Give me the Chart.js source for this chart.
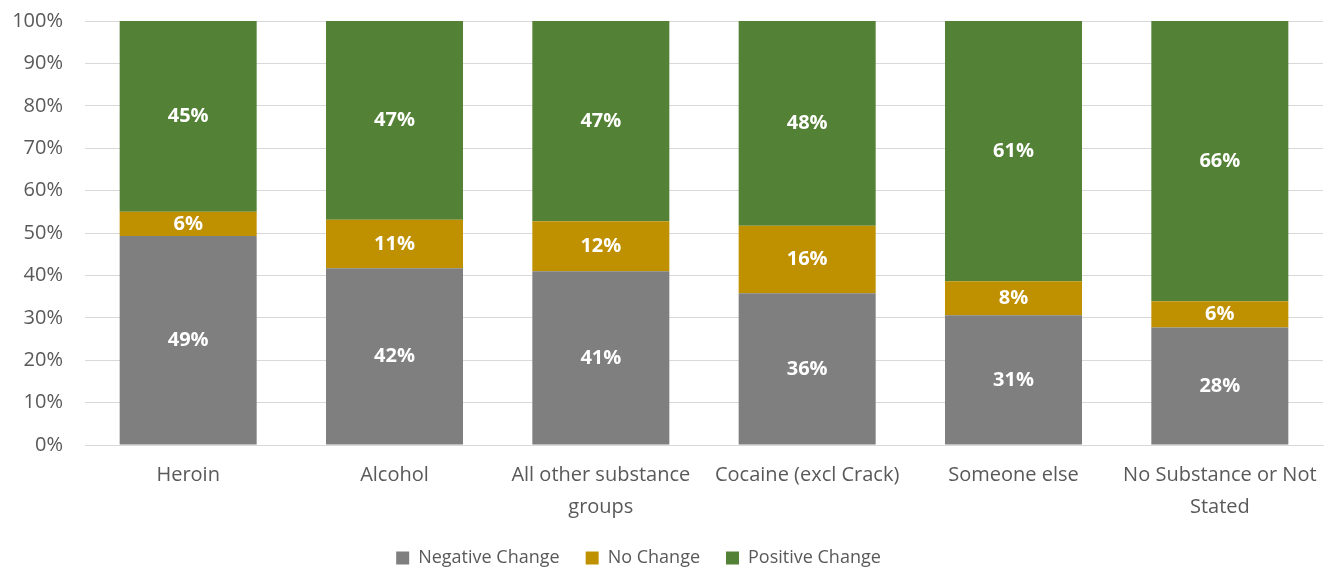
<!DOCTYPE html>
<html>
<head>
<meta charset="utf-8">
<script src="https://cdn.jsdelivr.net/npm/chart.js@4"></script>
<style>
  html, body { margin: 0; padding: 0; background: #fff; }
  #wrap { width: 1334px; height: 572px; }
</style>
</head>
<body>
<div id="wrap"><canvas id="outcomeChart" width="1334" height="572"></canvas></div>
<script>
// Chart data
const categories = [
    'Heroin',
    'Alcohol',
    ['All other substance', 'groups'],
    'Cocaine (excl Crack)',
    'Someone else',
    ['No Substance or Not', 'Stated']
];
const negativeChange = [49.3, 41.7, 41.0, 35.8, 30.6, 27.7];
const noChange = [5.7, 11.4, 11.8, 15.9, 8.0, 6.2];
const positiveChange = [45.0, 46.9, 47.2, 48.3, 61.4, 66.1];
const yTicks = [0, 10, 20, 30, 40, 50, 60, 70, 80, 90, 100];

const fontFamily = "'Open Sans', 'Noto Sans', sans-serif";
const textColor = '#595959';

// Draw the percentage labels inside each segment
const segmentLabels = {
    id: 'segmentLabels',
    afterDatasetsDraw(chart) {
        const ctx = chart.ctx;
        ctx.save();
        ctx.fillStyle = '#ffffff';
        ctx.font = 'bold 20px ' + fontFamily;
        ctx.textAlign = 'center';
        ctx.textBaseline = 'middle';
        chart.data.datasets.forEach((ds, i) => {
            const meta = chart.getDatasetMeta(i);
            meta.data.forEach((bar, j) => {
                const mid = (bar.y + bar.base) / 2;
                ctx.fillText(Math.round(ds.data[j]) + '%', bar.x, mid);
            });
        });
        ctx.restore();
    }
};

// Nudge the legend a little to the left, like the original
const legendShift = {
    id: 'legendShift',
    afterLayout(chart) {
        if (chart.legend) {
            chart.legend.left -= 23;
            chart.legend.right -= 23;
        }
    }
};

const ctx = document.getElementById('outcomeChart').getContext('2d');
new Chart(ctx, {
    type: 'bar',
    data: {
        labels: categories,
        datasets: [
            { label: 'Negative Change', data: negativeChange, backgroundColor: '#7F7F7F' },
            { label: 'No Change', data: noChange, backgroundColor: '#BF9000' },
            { label: 'Positive Change', data: positiveChange, backgroundColor: '#538135' }
        ]
    },
    options: {
        responsive: false,
        animation: false,
        layout: { padding: { top: 0, right: 11, left: 0, bottom: -5 } },
        datasets: {
            bar: { barPercentage: 0.664, categoryPercentage: 1.0, borderWidth: 0 }
        },
        plugins: {
            legend: {
                position: 'bottom',
                labels: {
                    boxWidth: 13,
                    boxHeight: 13,
                    padding: 26,
                    color: textColor,
                    font: { family: fontFamily, size: 18 }
                }
            },
            tooltip: { enabled: false }
        },
        scales: {
            x: {
                stacked: true,
                grid: { display: false, drawTicks: false },
                border: { color: '#D9D9D9', width: 1 },
                ticks: {
                    color: textColor,
                    padding: 14,
                    maxRotation: 0,
                    autoSkip: false,
                    font: { family: fontFamily, size: 20, lineHeight: 1.6 }
                },
                afterFit(scale) { scale.height = 78; }
            },
            y: {
                stacked: true,
                min: 0,
                max: 100,
                afterBuildTicks(scale) { scale.ticks = yTicks.map(v => ({ value: v })); },
                grid: { color: '#D9D9D9', lineWidth: 1, drawTicks: false },
                border: { display: false },
                ticks: {
                    color: textColor,
                    padding: 22,
                    font: { family: fontFamily, size: 20 },
                    callback: v => v + '%'
                },
                afterFit(scale) {
                    scale.width = 85;
                    scale.paddingTop = 21;
                    scale.paddingBottom = 0;
                }
            }
        }
    },
    plugins: [segmentLabels, legendShift]
});
</script>
</body>
</html>
